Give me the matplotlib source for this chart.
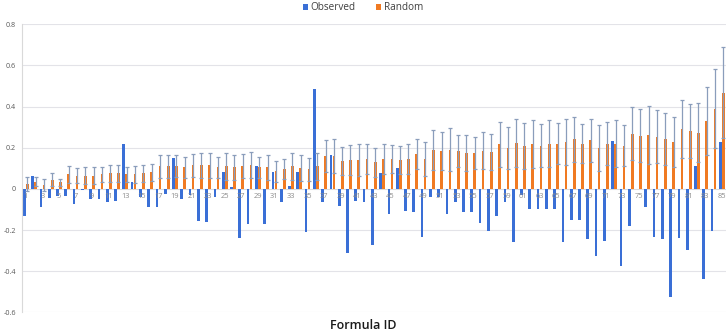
import matplotlib
matplotlib.use("Agg")
import matplotlib.pyplot as plt
import numpy as np

formula_ids = list(range(1, 86))

observed = [
    -0.13, 0.063, -0.09, -0.045, -0.035, -0.035, -0.075, -0.005, -0.05, -0.05,
    -0.065, -0.06, 0.22, 0.031, -0.04, -0.09, -0.09, -0.025, 0.15, -0.05,
    -0.03, -0.155, -0.16, -0.04, 0.08, 0.01, -0.24, -0.17, 0.11, -0.17,
    0.08, -0.065, 0.013, 0.08, -0.21, 0.486, -0.065, 0.164, -0.085, -0.311,
    -0.06, -0.065, -0.274, 0.075, -0.12, 0.10, -0.108, -0.11, -0.233, -0.04,
    -0.04, -0.12, -0.065, -0.11, -0.11, -0.165, -0.205, -0.133, -0.063, -0.26,
    -0.032, -0.096, -0.096, -0.096, -0.096, -0.26, -0.152, -0.152, -0.246, -0.324,
    -0.251, 0.232, -0.373, -0.18, 0.0, -0.09, -0.233, -0.246, -0.525, -0.241,
    -0.295, 0.11, -0.44, -0.203, 0.229,
]

random_mean = [
    0.025, 0.035, 0.02, 0.045, 0.032, 0.07, 0.065, 0.065, 0.065, 0.07,
    0.075, 0.075, 0.07, 0.07, 0.075, 0.08, 0.11, 0.11, 0.11, 0.105,
    0.115, 0.115, 0.115, 0.105, 0.11, 0.105, 0.11, 0.115, 0.105, 0.105,
    0.085, 0.095, 0.11, 0.10, 0.095, 0.11, 0.16, 0.16, 0.135, 0.14,
    0.14, 0.145, 0.13, 0.145, 0.145, 0.14, 0.145, 0.17, 0.145, 0.19,
    0.185, 0.19, 0.185, 0.175, 0.175, 0.186, 0.18, 0.217, 0.20, 0.224,
    0.21, 0.22, 0.21, 0.22, 0.22, 0.229, 0.241, 0.22, 0.237, 0.20,
    0.219, 0.22, 0.21, 0.269, 0.259, 0.264, 0.254, 0.243, 0.229, 0.29,
    0.282, 0.272, 0.329, 0.39, 0.467,
]

random_err = [
    0.033, 0.022, 0.029, 0.03, 0.018, 0.04, 0.035, 0.04, 0.04, 0.035,
    0.04, 0.04, 0.035, 0.04, 0.04, 0.04, 0.057, 0.057, 0.053, 0.05,
    0.055, 0.06, 0.06, 0.05, 0.065, 0.06, 0.058, 0.063, 0.05, 0.06,
    0.05, 0.048, 0.065, 0.063, 0.055, 0.065, 0.077, 0.083, 0.069, 0.074,
    0.077, 0.074, 0.07, 0.074, 0.069, 0.067, 0.074, 0.073, 0.083, 0.097,
    0.092, 0.105, 0.078, 0.088, 0.079, 0.091, 0.087, 0.109, 0.103, 0.118,
    0.111, 0.117, 0.106, 0.114, 0.101, 0.113, 0.109, 0.096, 0.105, 0.111,
    0.105, 0.114, 0.101, 0.13, 0.13, 0.141, 0.127, 0.128, 0.121, 0.14,
    0.13, 0.143, 0.165, 0.192, 0.222,
]

tick_labels = [str(i) if i % 2 == 1 else "" for i in formula_ids]
y_ticks = [-0.6, -0.4, -0.2, 0, 0.2, 0.4, 0.6, 0.8]

plt.rcParams['font.family'] = ['Open Sans', 'DejaVu Sans']

fig = plt.figure(figsize=(7.26, 3.36), dpi=100)
ax = fig.add_axes([0.0299, 0.0705, 0.9701, 0.8572])

x = np.array(formula_ids, dtype=float)
w = 0.34
ax.bar(x - 0.18, observed, width=w, color='#3A6FD6', label='Observed', zorder=2)
ax.bar(x + 0.18, random_mean, width=w, color='#F07A22', label='Random', zorder=2)
ax.errorbar(x + 0.18, random_mean, yerr=random_err, fmt='none',
            ecolor='#8A9DBB', elinewidth=0.9, capsize=1.4, capthick=0.9, zorder=3)

ax.set_xlim(0.5, 85.5)
ax.set_ylim(-0.6, 0.8)
ax.set_yticks(y_ticks)
ax.set_yticklabels(['-0.6', '-0.4', '-0.2', '0', '0.2', '0.4', '0.6', '0.8'],
                   fontsize=5.2, color='#595959')
ax.yaxis.grid(True, color='#E3E3E8', linewidth=0.8, zorder=0)
ax.set_axisbelow(True)
ax.tick_params(axis='y', length=0, pad=4)

ax.set_xticks([])
for i, lab in zip(formula_ids, tick_labels):
    if lab:
        ax.text(i, -0.018, lab, ha='center', va='top', fontsize=5.4,
                color='#8C8C8C', zorder=4)

for side in ['top', 'right', 'bottom']:
    ax.spines[side].set_visible(False)
ax.spines['left'].set_color('#D9D9D9')
ax.spines['left'].set_linewidth(0.8)
ax.axhline(0, color='#D9D9D9', linewidth=0.6, zorder=1)

fig.legend(loc='upper center', bbox_to_anchor=(0.5, 1.02), ncol=2, frameon=False,
           fontsize=7.2, handlelength=0.55, handleheight=0.55, handletextpad=0.25,
           columnspacing=2.0, labelcolor='#404040')

fig.text(0.5, 0.012, 'Formula ID', ha='center', va='bottom', fontsize=9,
         color='#1a1a1a', fontweight='semibold')

fig.savefig('out.png', dpi=100)
